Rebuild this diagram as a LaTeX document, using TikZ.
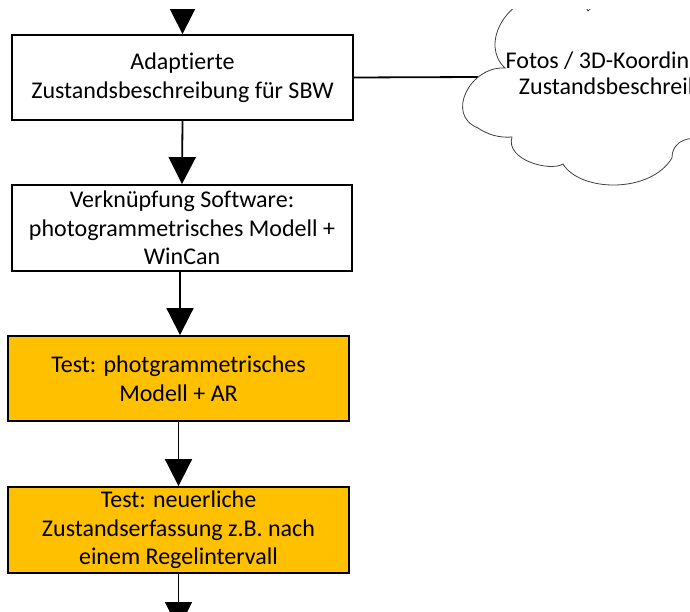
\documentclass[tikz,border=0pt]{standalone}
\usepackage{fontspec}
\setmainfont{Carlito}[Ligatures=NoCommon]
\usetikzlibrary{arrows.meta}
\definecolor{gold}{HTML}{FFC000}
\begin{document}
\begin{tikzpicture}[x=1pt,y=-1pt,
  box/.style={draw=black, line width=1.8pt, inner sep=0pt, align=center,
    font=\fontsize{24}{28.5}\selectfont},
  whitebox/.style={box, fill=white},
  goldbox/.style={box, fill=gold},
  flow/.style={line width=1.8pt, -{Triangle[width=27pt,length=27pt]}},
  link/.style={line width=1.8pt},
  cloudline/.style={draw=black!75, line width=0.8pt, fill=white},
  cloudtext/.style={align=center, font=\fontsize{24}{26.5}\selectfont, inner sep=0pt}]
\useasboundingbox (0,0) rectangle (690,612);
\clip (0,10) rectangle (690,612);
% boxes
\node[whitebox, minimum width=341pt, minimum height=85pt] (b1) at (182.5,77.5)
  {Adaptierte\\Zustandsbeschreibung für SBW};
\node[whitebox, minimum width=340pt, minimum height=86pt] (b2) at (182,228)
  {Verknüpfung Software:\\photogrammetrisches Modell +\\WinCan};
\node[goldbox, minimum width=341pt, minimum height=85pt] (b3) at (178.5,378.5)
  {Test: photgrammetrisches\\Modell + AR};
\node[goldbox, minimum width=341pt, minimum height=86pt] (b4) at (178.5,530)
  {Test: neuerliche\\Zustandserfassung z.B. nach\\einem Regelintervall};
% cloud
\coordinate (cl) at (478,77);
\draw[link] (b1.east) -- (cl);
\path[cloudline]
  (545,-5) .. controls (505,-2) and (480,45) .. (505,68)
  .. controls (470,66) and (445,115) .. (478,128)
  .. controls (488,135) and (500,138) .. (512,137)
  .. controls (505,160) and (550,172) .. (563,164)
  .. controls (580,192) and (650,194) .. (672,158)
  .. controls (672,140) and (690,135) .. (710,140)
  -- (710,-40) -- (640,-40)
  .. controls (620,-20) and (600,0) .. (588,11)
  .. controls (580,-5) and (565,-10) .. (545,-5) -- cycle;
\node[cloudtext] (ct) at (628,75) {Fotos / 3D-Koordinaten +\\Zustandsbeschreibung};
% arrows
\coordinate (top) at (182.5,-20);
\coordinate (bot) at (178.5,629);
\draw[flow] (top) -- (b1.north);
\draw[flow] (b1.south) -- (b2.north);
\draw[flow] ([xshift=-2pt]b2.south) -- ([xshift=1.5pt]b3.north);
\draw[flow] (b3.south) -- (b4.north);
\draw[flow] (b4.south) -- (bot);
\end{tikzpicture}
\end{document}
